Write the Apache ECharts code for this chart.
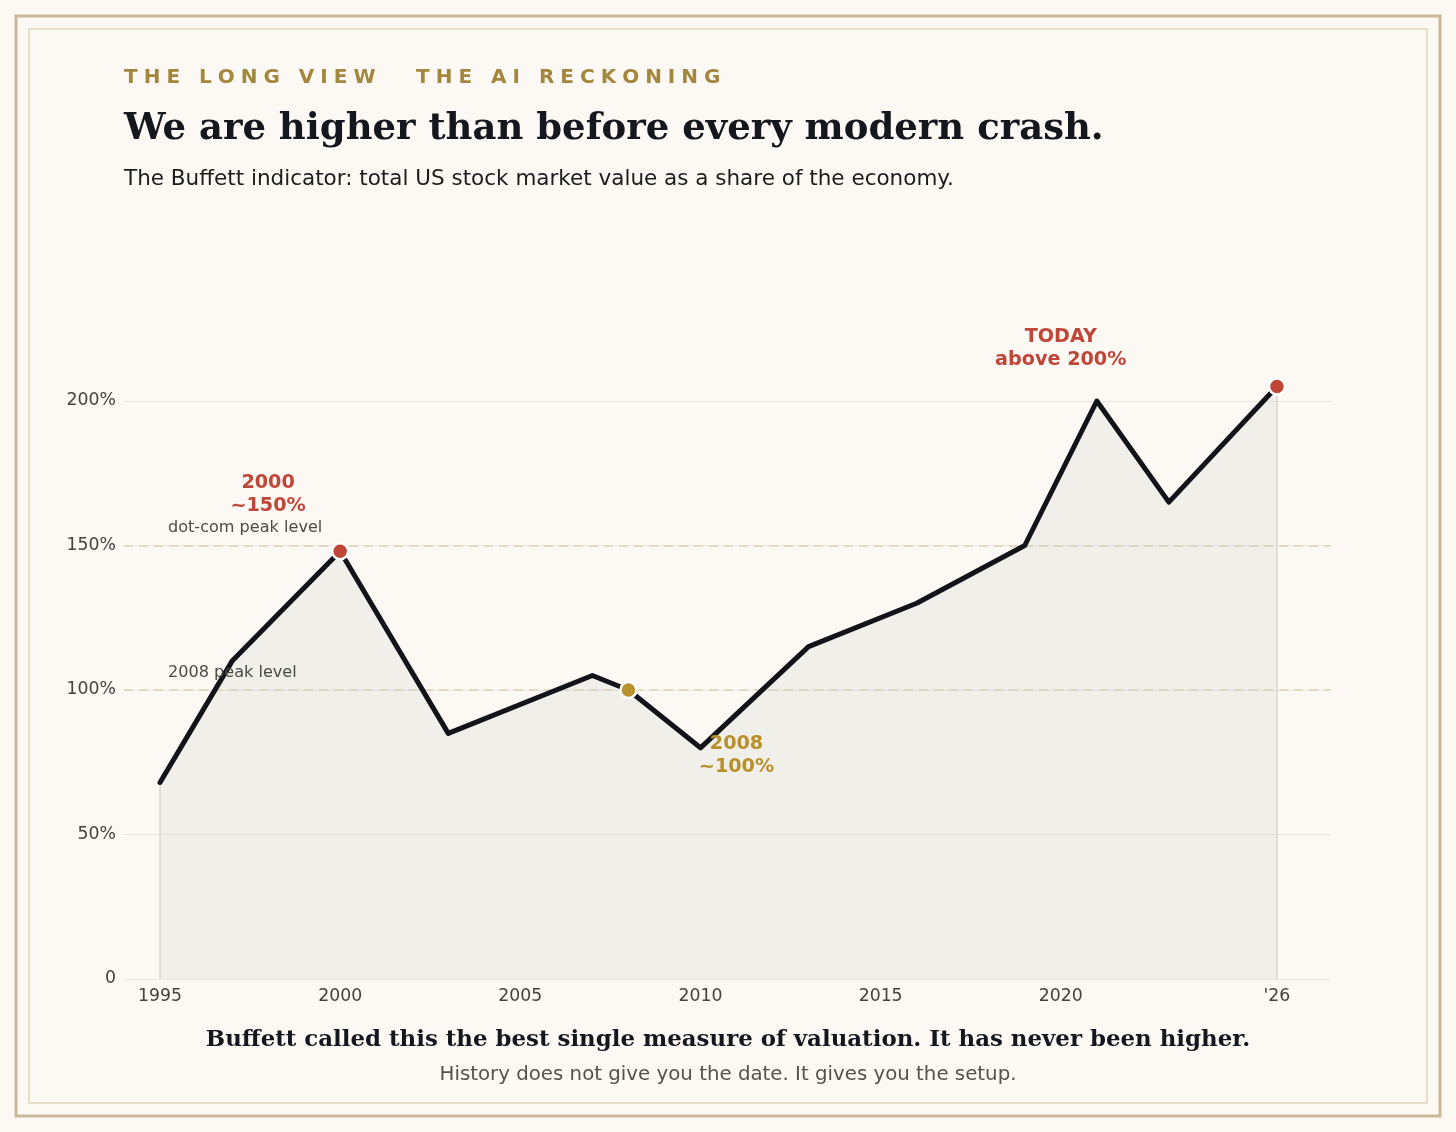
<!DOCTYPE html>
<html>
<head>
<meta charset="utf-8">
<script src="https://cdn.jsdelivr.net/npm/echarts@6/dist/echarts.min.js"></script>
<style>
  html, body { margin: 0; padding: 0; background: #fcf9f4; }
  #chart { width: 1456px; height: 1132px; }
</style>
</head>
<body>
<div id="chart"></div>
<script>
// Buffett indicator, market cap / GDP (%)
var years  = [1995, 1997, 2000, 2003, 2007, 2008, 2010, 2013, 2016, 2019, 2021, 2023, 2026];
var values = [68, 110, 148, 85, 105, 100, 80, 115, 130, 150, 200, 165, 205];

// highlighted points
var dotYears  = [2000, 2008, 2026];
var dotValues = [148, 100, 205];
var dotColors = ['#c0463a', '#b8902c', '#c0463a'];

// reference levels
var refLevels = [100, 150];

var xTicks = [1995, 2000, 2005, 2010, 2015, 2020, 2026];
var yTicks = [0, 50, 100, 150, 200];

// annotations [x, y, text]
var noteX    = [1998, 2011, 2020, 1995.22, 1995.22];
var noteY    = [167.8, 77.5, 218.3, 156, 106];
var noteText = ['2000\n~150%', '2008\n~100%', 'TODAY\nabove 200%', 'dot-com peak level', '2008 peak level'];

var RED = '#c0463a', GOLD = '#b8902c', INK = '#121419';

var chart = echarts.init(document.getElementById('chart'));

// letter-spaced eyebrow, laid out glyph by glyph
var ctx = document.createElement('canvas').getContext('2d');
function tracked(str, x0, y, font, track, color) {
  ctx.font = font;
  var out = [], x = x0;
  for (var i = 0; i < str.length; i++) {
    var ch = str[i];
    if (ch !== ' ') {
      out.push({ type: 'text', x: x, y: y, silent: true,
        style: { text: ch, font: font, fill: color, verticalAlign: 'middle' } });
    }
    x += ctx.measureText(ch).width + track;
  }
  return out;
}

var eyeFont = 'bold 20px "DejaVu Sans"';
var graphics = [
  { type: 'rect', shape: { x: 16, y: 16, width: 1424, height: 1100 }, silent: true,
    style: { fill: 'none', stroke: '#c9b999', lineWidth: 3 } },
  { type: 'rect', shape: { x: 29, y: 29, width: 1398, height: 1074 }, silent: true,
    style: { fill: 'none', stroke: '#e1d8bd', lineWidth: 1.5 } },
  { type: 'text', x: 124, y: 129, silent: true,
    style: { text: 'We are higher than before every modern crash.', font: 'bold 37px "DejaVu Serif"',
             fill: '#15171f', verticalAlign: 'middle' } },
  { type: 'text', x: 124, y: 179, silent: true,
    style: { text: 'The Buffett indicator: total US stock market value as a share of the economy.',
             font: '21.5px "DejaVu Sans"', fill: '#1c1c1c', verticalAlign: 'middle' } },
  { type: 'text', x: 728, y: 1040, silent: true,
    style: { text: 'Buffett called this the best single measure of valuation. It has never been higher.',
             font: 'bold 22.9px "DejaVu Serif"', fill: '#15171f', align: 'center', verticalAlign: 'middle' } },
  { type: 'text', x: 728, y: 1075, silent: true,
    style: { text: 'History does not give you the date. It gives you the setup.',
             font: '19.8px "DejaVu Sans"', fill: '#55524c', align: 'center', verticalAlign: 'middle' } }
];
graphics = graphics.concat(tracked('THE LONG VIEW', 124, 78, eyeFont, 6, '#a3873f'));
graphics = graphics.concat(tracked('THE AI RECKONING', 416, 78, eyeFont, 6, '#a3873f'));

var lineData = years.map(function (y, i) { return [y, values[i]]; });
var dotData = dotYears.map(function (y, i) {
  return { value: [y, dotValues[i]], itemStyle: { color: dotColors[i] } };
});
var noteData = noteX.map(function (x, i) {
  var small = i >= 3;
  var color = small ? '#4d4a44' : (i === 1 ? GOLD : RED);
  return {
    value: [x, noteY[i]],
    label: {
      show: true, formatter: noteText[i], position: 'inside',
      align: small ? 'left' : 'center', verticalAlign: 'middle',
      color: color, fontFamily: 'DejaVu Sans',
      fontSize: small ? 16.1 : 19.2, fontWeight: small ? 'normal' : 'bold',
      lineHeight: small ? 19 : 23
    }
  };
});

// faint edges of the filled area at both ends
var last = years.length - 1;
var edgeData = [
  [{ coord: [years[0], 0] }, { coord: [years[0], values[0]] }],
  [{ coord: [years[last], 0] }, { coord: [years[last], values[last]] }]
];

chart.setOption({
  backgroundColor: '#fcf9f4',
  animation: false,
  graphic: graphics,
  grid: { left: 124, right: 125, top: 256.5, bottom: 153 },
  xAxis: {
    type: 'value', min: 1994, max: 2027.5,
    axisLine: { show: false }, axisTick: { show: false }, splitLine: { show: false },
    axisLabel: {
      customValues: xTicks, margin: 9,
      color: '#45423d', fontSize: 17.3, fontFamily: 'DejaVu Sans',
      formatter: function (v) { return v === 2026 ? "'26" : String(v); }
    }
  },
  yAxis: {
    type: 'value', min: 0, max: 250, interval: 50,
    axisLine: { show: false }, axisTick: { show: false },
    splitLine: { show: true, showMaxLine: false, lineStyle: { color: '#ebe7df', width: 1 } },
    axisLabel: {
      customValues: yTicks, margin: 8,
      color: '#45423d', fontSize: 17.3, fontFamily: 'DejaVu Sans',
      formatter: function (v) { return v === 0 ? '0' : v + '%'; }
    }
  },
  series: [
    {
      // reference lines, kept underneath the data line
      type: 'line', data: [], silent: true, z: 1,
      markLine: {
        silent: true, symbol: 'none', label: { show: false }, z: 1,
        lineStyle: { color: '#dcd2b7', type: [9, 6], width: 1.5 },
        data: refLevels.map(function (v) { return { yAxis: v }; }).concat(
          edgeData.map(function (d) {
            return [
              Object.assign({ lineStyle: { color: '#e2e0da', type: 'solid', width: 2 } }, d[0]),
              d[1]
            ];
          }))
      }
    },
    {
      type: 'line', data: lineData, symbol: 'none', silent: true, z: 3,
      lineStyle: { color: INK, width: 5, join: 'round', cap: 'round' },
      areaStyle: { color: 'rgba(200,200,195,0.28)', origin: 'start' }
    },
    {
      type: 'scatter', data: dotData, symbolSize: 16, silent: true, z: 5,
      itemStyle: { borderColor: '#ffffff', borderWidth: 2.5, opacity: 1 }
    },
    {
      type: 'scatter', data: noteData, symbolSize: 0, silent: true, z: 6,
      itemStyle: { opacity: 1 }
    }
  ]
});
</script>
</body>
</html>
